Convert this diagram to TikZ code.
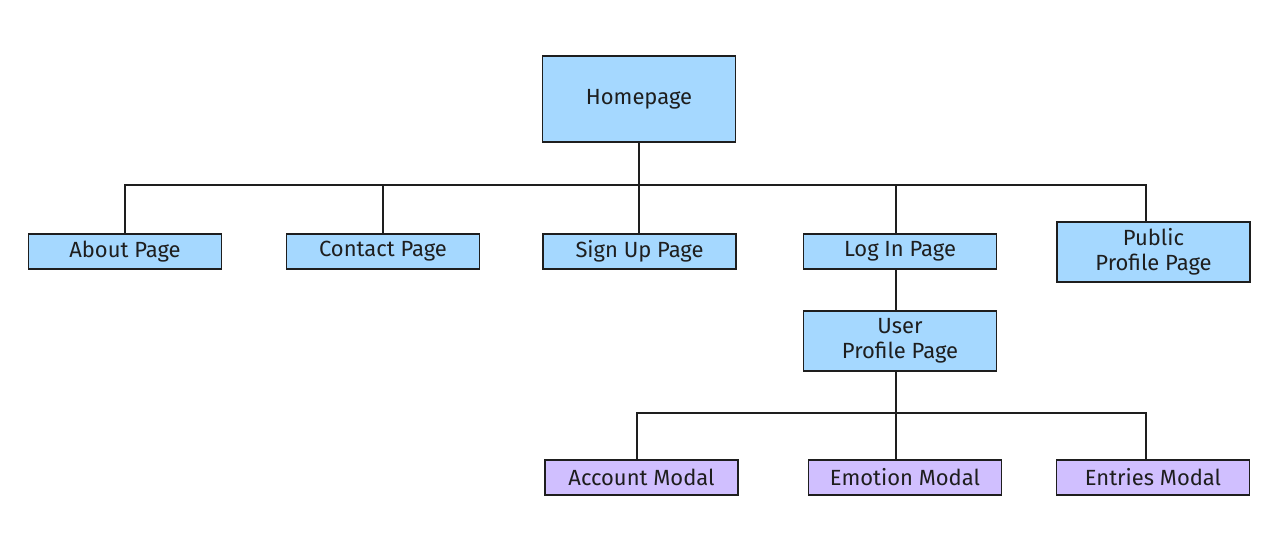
\documentclass[tikz,border=0pt]{standalone}
\usepackage{fontspec}
\setmainfont{Fira Sans}
\definecolor{inkdark}{HTML}{1E1E1E}
\definecolor{pageblue}{HTML}{A5D8FF}
\definecolor{modalpurple}{HTML}{D0BFFF}
\tikzset{
	pagebox/.style={draw=inkdark, line width=1.1pt, fill=pageblue, text=inkdark,
		minimum width=193*0.02cm, minimum height=35*0.02cm, align=center, inner sep=0pt,
		font=\fontsize{12.5}{14.5}\selectfont},
	modalbox/.style={pagebox, fill=modalpurple},
	link/.style={draw=inkdark, line width=1.1pt},
}

\begin{document}
\begin{tikzpicture}[x=0.02cm, y=-0.02cm]
	\useasboundingbox (0,0) rectangle (1285,556);
	% top level
	\node[pagebox, minimum height=86*0.02cm] (home) at (639,99) {Homepage};
	\coordinate (bus) at (639,185);
	% second level
	\node[pagebox] (about) at (125,251.5) {About Page};
	\node[pagebox] (contact) at (383,251.5) {Contact Page};
	\node[pagebox] (signup) at (639.5,251.5) {Sign Up Page};
	\node[pagebox] (login) at (900,251.5) {Log In Page};
	\node[pagebox, minimum height=60*0.02cm] (public) at (1153.5,252) {Public\\Profile Page};
	\node[pagebox, minimum height=60*0.02cm] (user) at (900,341) {User\\Profile Page};
	\coordinate (ubus) at (896,413);
	% modals
	\node[modalbox] (account) at (641.5,477.5) {Account Modal};
	\node[modalbox] (emotion) at (905,477.5) {Emotion Modal};
	\node[modalbox] (entries) at (1153,477.5) {Entries Modal};

	\draw[link] (home.south) -- (bus);
	\draw[link] (about.north) |- (bus);
	\draw[link] (contact.north) |- (bus);
	\draw[link] ([xshift=-0.5*0.02cm]signup.north) |- (bus);
	\draw[link] ([xshift=-4*0.02cm]login.north) |- (bus);
	\draw[link] ([xshift=-7.5*0.02cm]public.north) |- (bus);
	\draw[link] ([xshift=-4*0.02cm]login.south) -- ([xshift=-4*0.02cm]user.north);
	\draw[link] ([xshift=-4*0.02cm]user.south) -- (ubus);
	\draw[link] ([xshift=-4.5*0.02cm]account.north) |- (ubus);
	\draw[link] ([xshift=-9*0.02cm]emotion.north) |- (ubus);
	\draw[link] ([xshift=-7*0.02cm]entries.north) |- (ubus);
\end{tikzpicture}
\end{document}
